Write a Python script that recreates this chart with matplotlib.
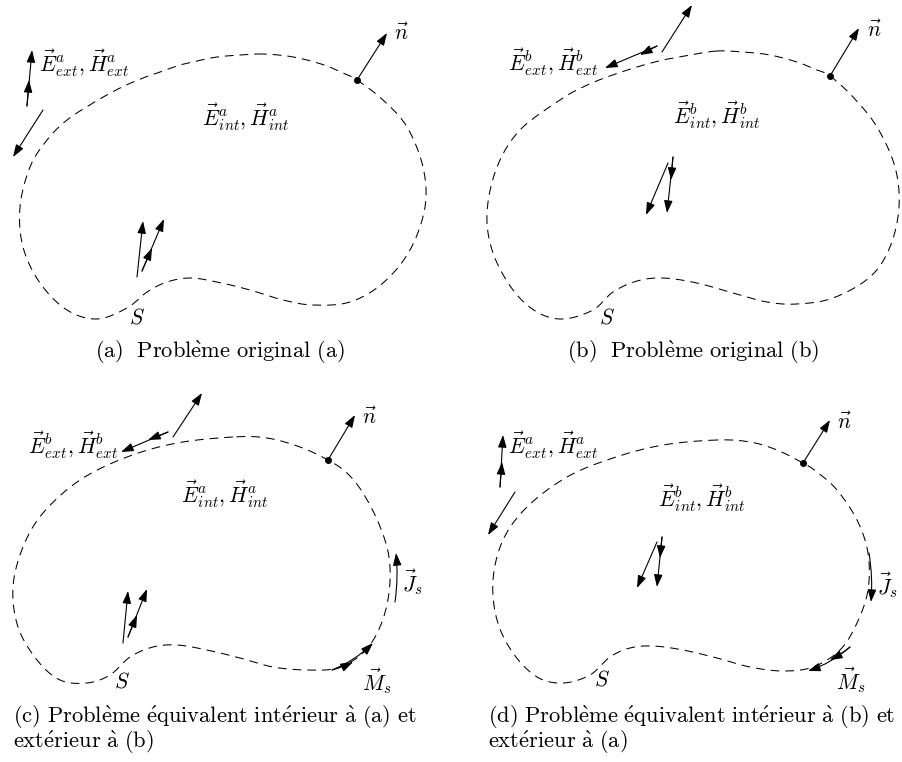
import numpy as np
import matplotlib
matplotlib.use("Agg")
import matplotlib.pyplot as plt
from matplotlib.patches import FancyArrowPatch

plt.rcParams['mathtext.fontset'] = 'cm'
plt.rcParams['lines.scale_dashes'] = False

# ---- traced boundary points (pixel coords) for each panel ----
curve_a = [(263,54),(240,55),(217,57),(197,61),(180,65),(163,71),(143,78),(120,88),(93,103),(67,120),
           (47,140),(30,167),(20,207),(23,247),(40,283),(67,310),
           (97,319),(127,308),(147,292),(167,282),(190,278),(217,282),(250,290),(283,300),(313,305),
           (350,302),(383,283),(410,250),(425,207),(423,167),(407,127),(383,100),(357,80),(343,73),
           (327,66),(307,60),(287,56)]
curve_b = [(717,51),(690,55),(663,60),(637,67),(607,77),(583,87),(560,100),(520,130),(497,167),(487,213),
           (493,253),(513,290),(537,312),
           (563,319),(593,310),(613,292),(637,281),(663,278),(697,283),(733,293),(767,302),(797,304),
           (833,298),(870,277),(890,247),(899,207),(895,167),(877,127),(853,97),(830,76),(817,70),
           (797,62),(770,55),(743,52)]
curve_c = [(233,437),(177,443),(127,457),(80,480),(43,513),(23,547),(13,587),(18,627),(37,660),(60,680),
           (87,683),(110,675),(130,657),(153,647),(177,645),(207,650),(240,658),(273,667),(307,670),
           (337,668),(363,653),(380,627),(389,593),(389,557),(379,524),(363,493),(347,473),(328,460),
           (300,447),(267,438)]
curve_d = [(717,440),(663,445),(613,458),(567,477),(527,507),(503,540),(493,580),(497,620),(513,653),
           (537,677),(563,683),(590,675),(610,657),(630,648),(653,646),(683,650),(717,658),(750,667),
           (783,671),(813,667),(840,650),(857,623),(868,590),(868,553),(857,520),(837,490),(817,472),
           (803,463),(777,450),(750,442)]
curves = [curve_a, curve_b, curve_c, curve_d]

dots = [(357,80),(830,76),(328,460),(803,463)]
normals = [(387,33),(859,28),(355,415),(830,420)]
n_labels = [(401,33),(874,30),(369,417),(844,422)]

# straight field arrows: (x0, y0, x1, y1)
arrows_a = [(27,106,29,80),(27,106,32,50),(43,110,13,157),(137,277,143,221),(142,271,152,248),(142,271,164,219)]
arrows_b = [(662,52,692,5),(657,46,640,55),(657,46,605,68),(668,163,646,215),(673,157,671,180),(673,157,667,213)]
arrows_c = [(173,437,202,393),(168,432,148,440),(168,432,121,452),(123,643,128,591),(128,637,137,615),(128,637,147,589)]
arrows_d = [(500,487,502,462),(500,487,503,435),(515,492,488,535),(657,542,637,588),(662,537,660,558),(662,537,657,587)]
arrows = [arrows_a, arrows_b, arrows_c, arrows_d]

# curved surface-current arrows: (x0, y0, x1, y1, rad)
currents = [(395,602,396,553,0.06),(332,670,353,662,0.05),(332,670,373,643,0.1),
            (869,553,871,602,-0.06),(850,647,830,660,-0.05),(850,647,808,671,-0.1)]

ext_labels = [r"$\vec{E}^a_{ext}, \vec{H}^a_{ext}$", r"$\vec{E}^b_{ext}, \vec{H}^b_{ext}$",
              r"$\vec{E}^b_{ext}, \vec{H}^b_{ext}$", r"$\vec{E}^a_{ext}, \vec{H}^a_{ext}$"]
ext_pos = [(84,63),(553,62),(73,445),(553,445)]
int_labels = [r"$\vec{E}^a_{int}, \vec{H}^a_{int}$", r"$\vec{E}^b_{int}, \vec{H}^b_{int}$",
              r"$\vec{E}^a_{int}, \vec{H}^a_{int}$", r"$\vec{E}^b_{int}, \vec{H}^b_{int}$"]
int_pos = [(246,117),(717,115),(225,494),(702,498)]
s_pos = [(137,317),(607,317),(122,682),(602,680)]
js_pos = [(413,582),(888,585)]
ms_pos = [(377,681),(851,680)]

captions_top = [r"$\mathrm{(a)\ \ Probl\grave{e}me\ original\ (a)}$",
                r"$\mathrm{(b)\ \ Probl\grave{e}me\ original\ (b)}$"]
captions_top_pos = [(220,352),(693,352)]
captions_bot = [[r"$\mathrm{(c)\ Probl\grave{e}me\ \acute{e}quivalent\ int\acute{e}rieur\ \grave{a}\ (a)\ et}$",
                 r"$\mathrm{ext\acute{e}rieur\ \grave{a}\ (b)}$"],
                [r"$\mathrm{(d)\ Probl\grave{e}me\ \acute{e}quivalent\ int\acute{e}rieur\ \grave{a}\ (b)\ et}$",
                 r"$\mathrm{ext\acute{e}rieur\ \grave{a}\ (a)}$"]]
captions_bot_x = [13, 488]
captions_bot_y = [717, 742]


def closed_catmull_rom(pts, n=30):
    p = np.asarray(pts, float)
    m = len(p)
    out = []
    for i in range(m):
        p0, p1, p2, p3 = p[(i-1) % m], p[i], p[(i+1) % m], p[(i+2) % m]
        t = np.linspace(0, 1, n, endpoint=False)[:, None]
        out.append(0.5*((2*p1) + (-p0+p2)*t + (2*p0-5*p1+4*p2-p3)*t**2 + (-p0+3*p1-3*p2+p3)*t**3))
    out = np.vstack(out)
    return np.vstack([out, out[:1]])


fig = plt.figure(figsize=(9.03, 7.62), dpi=100)
ax = fig.add_axes([0, 0, 1, 1])
ax.set_xlim(0, 903)
ax.set_ylim(762, 0)
ax.axis('off')

astyle = "-|>,head_length=7.5,head_width=2.6"

def arrow(x0, y0, x1, y1, rad=0.0):
    a = FancyArrowPatch((x0, y0), (x1, y1), arrowstyle=astyle, mutation_scale=1,
                        connectionstyle=f"arc3,rad={rad}", lw=0.8, color='black',
                        shrinkA=0, shrinkB=0)
    ax.add_patch(a)

for c in curves:
    xy = closed_catmull_rom(c)
    ax.plot(xy[:, 0], xy[:, 1], color='black', lw=0.75, dashes=(6.3, 4.3))

for (dx, dy), (nx, ny), (lx, ly) in zip(dots, normals, n_labels):
    ax.plot([dx], [dy], 'o', color='black', ms=4)
    arrow(dx, dy, nx, ny)
    ax.text(lx, ly, r"$\vec{n}$", fontsize=15.5, ha='center', va='center')

for group in arrows:
    for (x0, y0, x1, y1) in group:
        arrow(x0, y0, x1, y1)

for (x0, y0, x1, y1, r) in currents:
    arrow(x0, y0, x1, y1, r)

fs = 15.5
for t, (x, y) in zip(ext_labels, ext_pos):
    ax.text(x, y, t, fontsize=fs, ha='center', va='center')
for t, (x, y) in zip(int_labels, int_pos):
    ax.text(x, y, t, fontsize=fs, ha='center', va='center')
for (x, y) in s_pos:
    ax.text(x, y, r"$S$", fontsize=fs, ha='center', va='center')
for (x, y) in js_pos:
    ax.text(x, y, r"$\vec{J}_s$", fontsize=fs, ha='center', va='center')
for (x, y) in ms_pos:
    ax.text(x, y, r"$\vec{M}_s$", fontsize=fs, ha='center', va='center')

cfs = 16.2
for t, (x, y) in zip(captions_top, captions_top_pos):
    ax.text(x, y, t, fontsize=cfs, ha='center', va='center')
for lines, x in zip(captions_bot, captions_bot_x):
    for t, y in zip(lines, captions_bot_y):
        ax.text(x, y, t, fontsize=cfs, ha='left', va='center')

fig.savefig("out.png", dpi=100)
